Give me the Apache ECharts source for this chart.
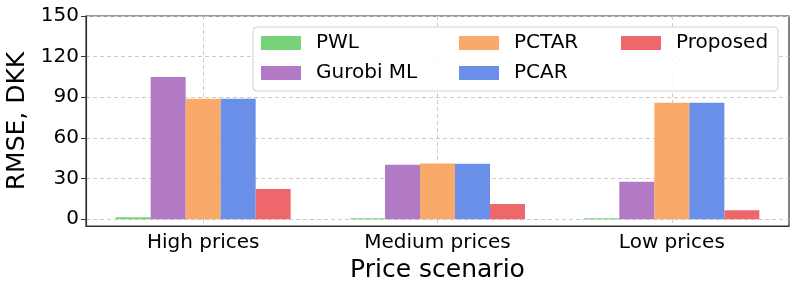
<!DOCTYPE html>
<html><head><meta charset="utf-8">
<script src="https://cdn.jsdelivr.net/npm/echarts@6/dist/echarts.min.js"></script>
<style>html,body{margin:0;padding:0;background:#fff}#c{width:798px;height:293px}</style>
</head><body><div id="c"></div>
<script>
const categories = ['High prices', 'Medium prices', 'Low prices'];
const pwl = [1.5, 0.8, 0.5];
const gurobiML = [105, 40.3, 27.6];
const pctar = [89, 41.1, 86];
const pcar = [89, 41, 86];
const proposed = [22.4, 11.3, 6.6];
const yTicks = [0, 30, 60, 90, 120, 150];

const FONT = 'DejaVu Sans';
const seriesDefs = [
  ['PWL', pwl, '#78d27a'],
  ['Gurobi ML', gurobiML, '#b27ac4'],
  ['PCTAR', pctar, '#f9aa6b'],
  ['PCAR', pcar, '#6a8fe8'],
  ['Proposed', proposed, '#ee686b']
];
const chart = echarts.init(document.getElementById('c'), null, {renderer: 'canvas'});
function legend(names, left) {
  return {
    show: true, orient: 'vertical', left: left, top: 33, padding: 0,
    itemWidth: 40, itemHeight: 14, itemGap: 10, icon: 'rect', z: 5,
    data: names,
    textStyle: {fontFamily: FONT, fontSize: 20, color: '#000', lineHeight: 20, padding: [0, 0, 0, 10]}
  };
}
chart.setOption({
  animation: false,
  textStyle: {fontFamily: FONT},
  grid: {left: 86, right: 9, top: 16, bottom: 67, outerBoundsMode: 'none', containLabel: false,
    show: true, borderColor: '#333', borderWidth: 1.2, backgroundColor: 'transparent'},
  graphic: [{type: 'rect', z: 4, shape: {x: 253, y: 27, width: 525, height: 64, r: 4},
    style: {fill: 'rgba(255,255,255,0.85)', stroke: '#d0d0d0', lineWidth: 1}}],
  legend: [legend(['PWL', 'Gurobi ML'], 261), legend(['PCTAR', 'PCAR'], 459), legend(['Proposed'], 621)],
  xAxis: {
    type: 'category', data: categories, boundaryGap: true,
    name: 'Price scenario', nameLocation: 'middle', nameGap: 31,
    nameTextStyle: {fontFamily: FONT, fontSize: 25, color: '#000'},
    axisLine: {onZero: false, lineStyle: {color: '#333', width: 1.2}},
    axisTick: {alignWithLabel: true, length: 5, lineStyle: {color: '#333'}},
    axisLabel: {fontFamily: FONT, fontSize: 20, color: '#000', margin: 7},
    splitLine: {show: true, alignWithLabel: true, lineStyle: {type: [4, 3], color: '#cccccc', width: 1}}
  },
  yAxis: {
    type: 'value', min: -5, max: 150,
    name: 'RMSE, DKK', nameLocation: 'middle', nameGap: 49,
    nameTextStyle: {fontFamily: FONT, fontSize: 25, color: '#000'},
    axisLine: {show: true, lineStyle: {color: '#333', width: 1.2}},
    axisTick: {show: true, length: 5, customValues: yTicks, lineStyle: {color: '#333'}},
    axisLabel: {fontFamily: FONT, fontSize: 20, color: '#000', margin: 7, customValues: yTicks},
    splitLine: {show: true, lineStyle: {type: [4, 3], color: '#cccccc', width: 1}}
  },
  series: seriesDefs.map(([name, data, color]) => ({
    name, type: 'bar', data, barWidth: 35, barGap: '0%', barMinHeight: 1,
    itemStyle: {color: color}
  }))
});
</script></body></html>
